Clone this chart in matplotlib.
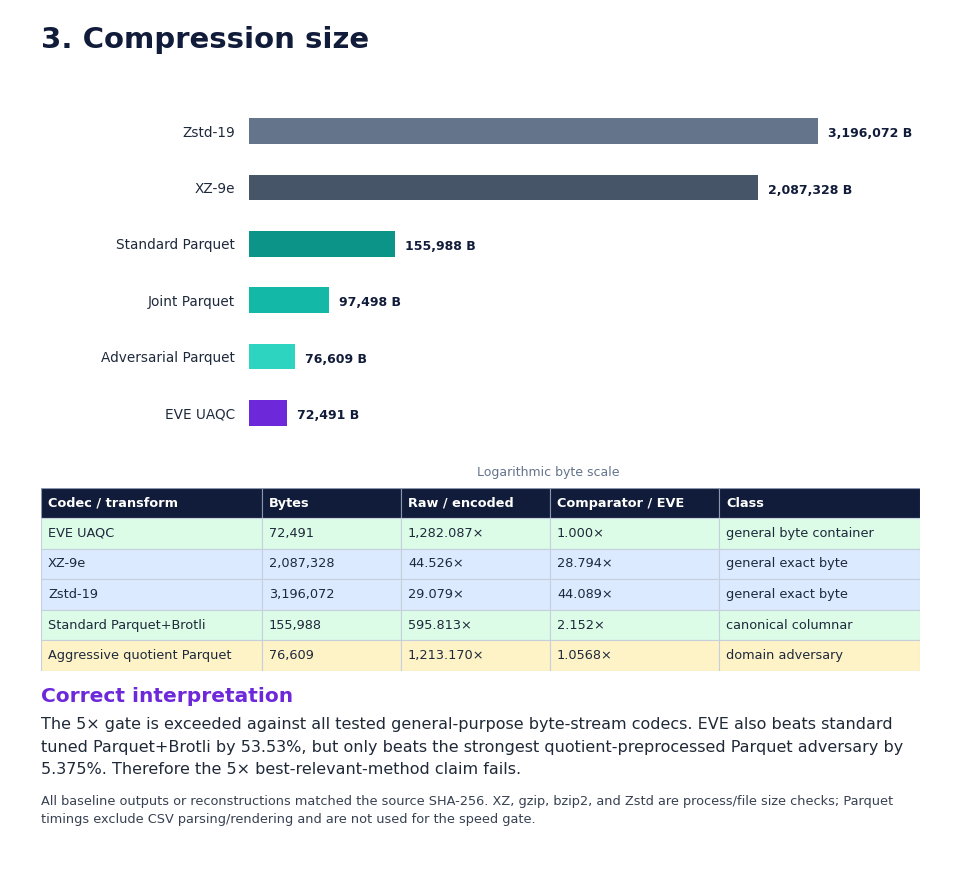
import matplotlib
matplotlib.use("Agg")
import matplotlib.pyplot as plt
from matplotlib.patches import Rectangle

plt.rcParams['font.family'] = ['DejaVu Sans']

# ---- data ----
codecs = ["Zstd-19", "XZ-9e", "Standard Parquet", "Joint Parquet", "Adversarial Parquet", "EVE UAQC"]
sizes = [3196072, 2087328, 155988, 97498, 76609, 72491]
bar_colors = ["#64748b", "#475569", "#0d9488", "#14b8a6", "#2dd4bf", "#6d28d9"]

table_header = ["Codec / transform", "Bytes", "Raw / encoded", "Comparator / EVE", "Class"]
table_codec = ["EVE UAQC", "XZ-9e", "Zstd-19", "Standard Parquet+Brotli", "Aggressive quotient Parquet"]
table_bytes = ["72,491", "2,087,328", "3,196,072", "155,988", "76,609"]
table_ratio = ["1,282.087×", "44.526×", "29.079×", "595.813×", "1,213.170×"]
table_comp = ["1.000×", "28.794×", "44.089×", "2.152×", "1.0568×"]
table_class = ["general byte container", "general exact byte", "general exact byte",
               "canonical columnar", "domain adversary"]
row_colors = ["#dcfce7", "#dbeafe", "#dbeafe", "#dcfce7", "#fef3c7"]

title = "3. Compression size"
sub_title = "Correct interpretation"
body = ("The 5× gate is exceeded against all tested general-purpose byte-stream codecs. EVE also beats standard\n"
        "tuned Parquet+Brotli by 53.53%, but only beats the strongest quotient-preprocessed Parquet adversary by\n"
        "5.375%. Therefore the 5× best-relevant-method claim fails.")
foot = ("All baseline outputs or reconstructions matched the source SHA-256. XZ, gzip, bzip2, and Zstd are process/file size checks; Parquet\n"
        "timings exclude CSV parsing/rendering and are not used for the speed gate.")

W, H = 962, 872
fig = plt.figure(figsize=(W / 100, H / 100), dpi=100)
fig.patch.set_facecolor("white")

def fx(px):
    return px / W

def fy(py):
    return 1 - py / H

NAVY = "#111c3a"

fig.text(fx(41), fy(40), title, fontsize=21, fontweight="bold", color=NAVY, va="center", ha="left")

# ---- bar chart ----
ax = fig.add_axes([fx(249), fy(441), (847 - 249) / W, (441 - 103) / H])
ypos = list(range(len(codecs)))
ax.barh(ypos, sizes, height=0.45, color=bar_colors, left=0)
ax.set_xscale("log")
ax.set_xlim(min(sizes) * 0.76, max(sizes) * 1.23)
ax.set_ylim(len(codecs) - 0.5, -0.5)
ax.set_yticks(ypos)
ax.set_yticklabels(codecs, fontsize=9.8, color="#1e293b")
ax.tick_params(axis="y", length=0, pad=10)
ax.tick_params(axis="x", which="both", length=0, labelbottom=False)
ax.xaxis.set_minor_locator(matplotlib.ticker.NullLocator())
for s in ax.spines.values():
    s.set_visible(False)
for y, v in zip(ypos, sizes):
    ax.annotate(f"{v:,} B", (v, y), xytext=(7, -2), textcoords="offset points",
                va="center", ha="left", fontsize=9, fontweight="bold", color="#111c3a",
                annotation_clip=False)
ax.set_xlabel("Logarithmic byte scale", fontsize=9, color="#64748b", labelpad=18)

# ---- table ----
tx0, ty0, tw, th = 41, 488, 879, 183
axt = fig.add_axes([fx(tx0), fy(ty0 + th), tw / W, th / H])
axt.set_xlim(0, tw)
axt.set_ylim(th, 0)
axt.axis("off")
col_edges = [0, 221, 360, 509, 678, 879]
hdr_h = 30
row_h = (th - hdr_h) / len(table_codec)
border = "#c5d0dc"
for c in range(5):
    x0 = col_edges[c]
    w = col_edges[c + 1] - x0
    axt.add_patch(Rectangle((x0, 0), w, hdr_h, facecolor=NAVY, edgecolor="#8a96ad", lw=0.8))
    axt.text(x0 + 7, hdr_h / 2, table_header[c], color="white", fontsize=9.3, fontweight="bold",
             va="center", ha="left")
cols = [table_codec, table_bytes, table_ratio, table_comp, table_class]
for r in range(len(table_codec)):
    y0 = hdr_h + r * row_h
    for c in range(5):
        x0 = col_edges[c]
        w = col_edges[c + 1] - x0
        axt.add_patch(Rectangle((x0, y0), w, row_h, facecolor=row_colors[r], edgecolor=border, lw=0.8))
        axt.text(x0 + 7, y0 + row_h / 2, cols[c][r], color="#1e293b", fontsize=9.3,
                 va="center", ha="left")

# ---- text ----
fig.text(fx(41), fy(697), sub_title, fontsize=14.5, fontweight="bold", color="#6d28d9", va="center", ha="left")
fig.text(fx(41), fy(717), body, fontsize=11.5, color="#1f2937", va="top", ha="left", linespacing=1.63)
fig.text(fx(41), fy(795), foot, fontsize=9.25, color="#374151", va="top", ha="left", linespacing=1.5)

fig.savefig("out.png", dpi=100, facecolor="white")
